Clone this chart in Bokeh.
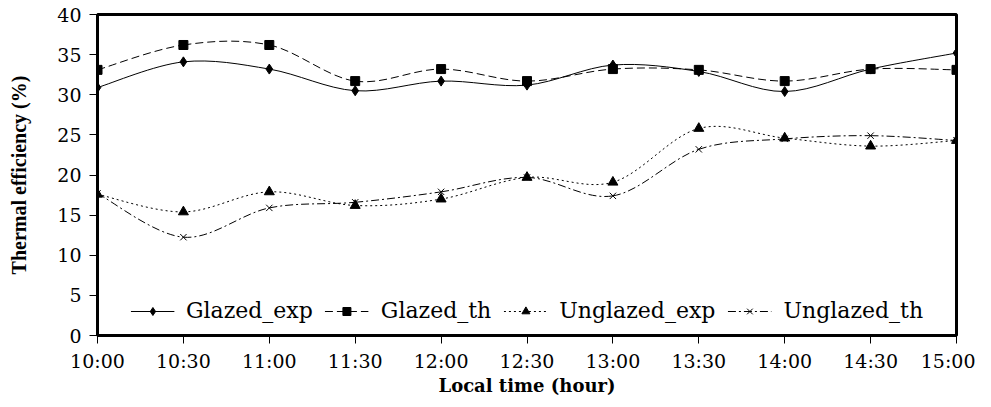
from bokeh.plotting import figure
from bokeh.models import ColumnDataSource, Legend, LegendItem, FixedTicker, Range1d
from bokeh.embed import file_html
from bokeh.resources import INLINE

times = ["10:00", "10:30", "11:00", "11:30", "12:00", "12:30",
         "13:00", "13:30", "14:00", "14:30", "15:00"]
glazed_exp = [30.9, 34.1, 33.2, 30.5, 31.7, 31.2, 33.7, 32.9, 30.4, 33.2, 35.2]
glazed_th = [33.1, 36.2, 36.2, 31.7, 33.2, 31.7, 33.2, 33.1, 31.7, 33.2, 33.1]
unglazed_exp = [17.6, 15.4, 17.9, 16.2, 17.0, 19.7, 19.1, 25.8, 24.6, 23.6, 24.3]
unglazed_th = [17.7, 12.25, 15.9, 16.6, 17.9, 19.7, 17.4, 23.2, 24.5, 24.9, 24.3]
y_ticks = [0, 5, 10, 15, 20, 25, 30, 35, 40]

xs = list(range(len(times)))

p = figure(width=975, height=399, output_backend="svg", toolbar_location=None,
           x_range=Range1d(0, len(times) - 1), y_range=Range1d(0, 40),
           min_border_left=97, min_border_right=19, min_border_top=14,
           min_border_bottom=64)
p.xgrid.visible = False
p.ygrid.visible = False
p.outline_line_color = "black"
p.outline_line_width = 3
p.background_fill_color = "white"
p.border_fill_color = "white"


def smooth_source(ys):
    n = len(ys)
    d = dict(x0=[], y0=[], x1=[], y1=[], cx0=[], cy0=[], cx1=[], cy1=[])
    for i in range(n - 1):
        im = max(i - 1, 0)
        ip2 = min(i + 2, n - 1)
        x0, y0 = xs[i], ys[i]
        x1, y1 = xs[i + 1], ys[i + 1]
        d["x0"].append(x0); d["y0"].append(y0)
        d["x1"].append(x1); d["y1"].append(y1)
        d["cx0"].append(x0 + (xs[i + 1] - xs[im]) / 6.0)
        d["cy0"].append(y0 + (ys[i + 1] - ys[im]) / 6.0)
        d["cx1"].append(x1 - (xs[ip2] - xs[i]) / 6.0)
        d["cy1"].append(y1 - (ys[ip2] - ys[i]) / 6.0)
    return ColumnDataSource(d)


series = [
    ("Glazed_exp", glazed_exp, "solid", "diamond", 10),
    ("Glazed_th", glazed_th, "8 4", "square", 9),
    ("Unglazed_exp", unglazed_exp, "2 3", "triangle", 10),
    ("Unglazed_th", unglazed_th, "8 3 2 3", "x", 9),
]

items = []
for name, ys, dash, marker, size in series:
    src = smooth_source(ys)
    b = p.bezier(x0="x0", y0="y0", x1="x1", y1="y1", cx0="cx0", cy0="cy0",
                 cx1="cx1", cy1="cy1", source=src, line_color="black",
                 line_width=1, line_dash=dash)
    s = p.scatter(xs, ys, marker=marker, size=size, fill_color="black",
                  line_color="black", line_width=1)
    items.append(LegendItem(label=name, renderers=[b, s]))

legend = Legend(items=items, orientation="horizontal", location="bottom_center",
                label_text_font="DejaVu Serif", label_text_font_size="22px",
                label_text_color="black", glyph_width=44, label_standoff=12,
                spacing=12, border_line_alpha=0, background_fill_alpha=1,
                margin=10, padding=2)
p.add_layout(legend, "center")

# axes
p.xaxis.ticker = FixedTicker(ticks=xs)
p.xaxis.major_label_overrides = {i: t for i, t in enumerate(times)}
p.yaxis.ticker = FixedTicker(ticks=y_ticks)
for ax in (p.xaxis[0], p.yaxis[0]):
    ax.axis_line_color = "black"
    ax.axis_line_width = 3
    ax.major_tick_line_color = "black"
    ax.major_tick_line_width = 1
    ax.major_tick_in = 0
    ax.major_tick_out = 8
    ax.minor_tick_line_color = None
    ax.major_label_text_font = "DejaVu Serif"
    ax.major_label_text_font_size = "19px"
    ax.major_label_text_color = "black"
    ax.axis_label_text_color = "black"
    ax.axis_label_text_font_style = "bold"
p.xaxis.major_label_standoff = 6
p.yaxis.major_label_standoff = 8
p.xaxis.axis_label = "Local time (hour)"
p.xaxis.axis_label_text_font = "DejaVu Serif"
p.xaxis.axis_label_text_font_size = "18px"
p.xaxis.axis_label_standoff = 0
p.yaxis.axis_label = "Thermal efficiency (%)"
p.yaxis.axis_label_text_font = "Liberation Serif"
p.yaxis.axis_label_text_font_size = "20px"
p.yaxis.axis_label_standoff = 24

open("out.html", "w").write(file_html(p, INLINE))
